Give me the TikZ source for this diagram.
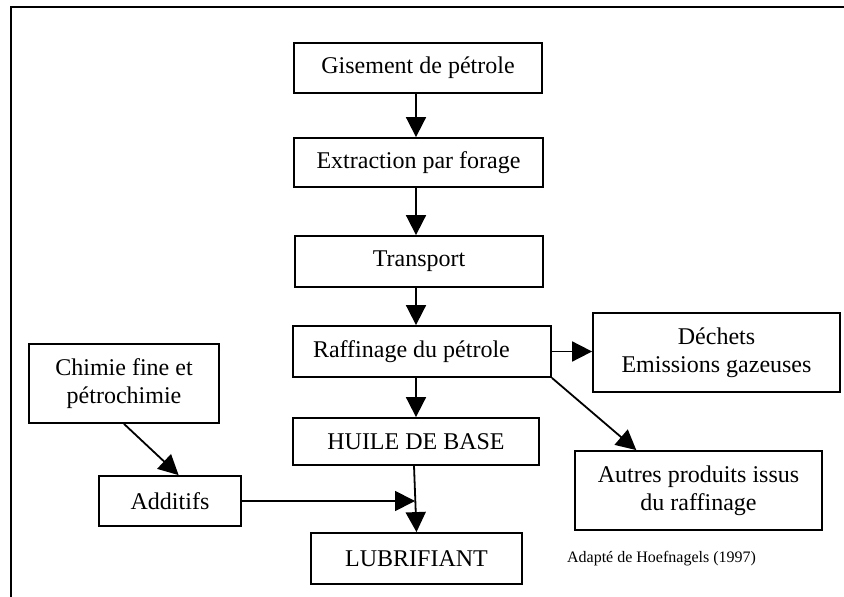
\documentclass[tikz,border=0pt]{standalone}
\usepackage{fontspec}
\setmainfont{Liberation Serif}
\usetikzlibrary{arrows.meta,calc}
\begin{document}
\begin{tikzpicture}[x=0.5pt,y=-0.5pt,
  box/.style={draw,line width=0.9pt,inner sep=0pt,align=center,font=\fontsize{12}{14}\selectfont},
  arr/.style={line width=0.9pt,-{Triangle[length=10pt,width=10pt]}},
  frame/.style={line width=1pt}]
\useasboundingbox (0,0) rectangle (844,597);
\draw[frame] (11,600) -- (11,7) -- (850,7);
\coordinate (axis) at (416,0);
\node[box,minimum width=124pt,minimum height=25pt] (gis) at (418,68) {Gisement de pétrole};
\node[box,minimum width=124.5pt,minimum height=24.5pt] (ext) at (418.5,162.5) {Extraction par forage};
\node[box,minimum width=124pt,minimum height=25.5pt] (tra) at (419,261.5) {Transport};
\node[box,minimum height=25.5pt,text width=109pt,inner xsep=10pt,align=flush left] (raf) at (422,351.5) {Raffinage du pétrole};
\node[box,minimum width=123pt,minimum height=23.5pt] (huile) at (416,441.5) {HUILE DE BASE};
\node[box,minimum width=105.5pt,minimum height=25.5pt] (lub) at (416.5,558.5) {LUBRIFIANT};
\node[box,minimum width=71pt,minimum height=25pt] (add) at (170,501) {Additifs};
\node[box,minimum width=95pt,minimum height=39.5pt] (chim) at (124,383.5) {Chimie fine et\\pétrochimie};
\node[box,minimum width=123.5pt,minimum height=39.5pt] (dech) at (716.5,352.5) {Déchets\\Emissions gazeuses};
\node[box,minimum width=123.5pt,minimum height=39.5pt] (autres) at (698.5,490.5) {Autres produits issus\\du raffinage};
\node[font=\fontsize{8}{10}\selectfont,inner sep=0pt] (src) at (661.5,559) {Adapté de Hoefnagels (1997)};
\coordinate (join) at (415,501);
\draw[arr] (gis.south -| axis) -- (ext.north -| axis);
\draw[arr] (ext.south -| axis) -- (tra.north -| axis);
\draw[arr] (tra.south -| axis) -- (raf.north -| axis);
\draw[arr] (raf.south -| axis) -- (huile.north -| axis);
\draw[arr] ([xshift=-1pt]huile.south) -- (lub.north);
\draw[arr] (add.east) -- (join);
\draw[arr] (raf.east) -- (raf.east -| dech.west);
\draw[arr] (raf.south east) -- ($(autres.north west)!0.25!(autres.north east)$);
\draw[arr] (chim.south) -- ($(add.north west)!0.56!(add.north east)$);
\end{tikzpicture}
\end{document}
